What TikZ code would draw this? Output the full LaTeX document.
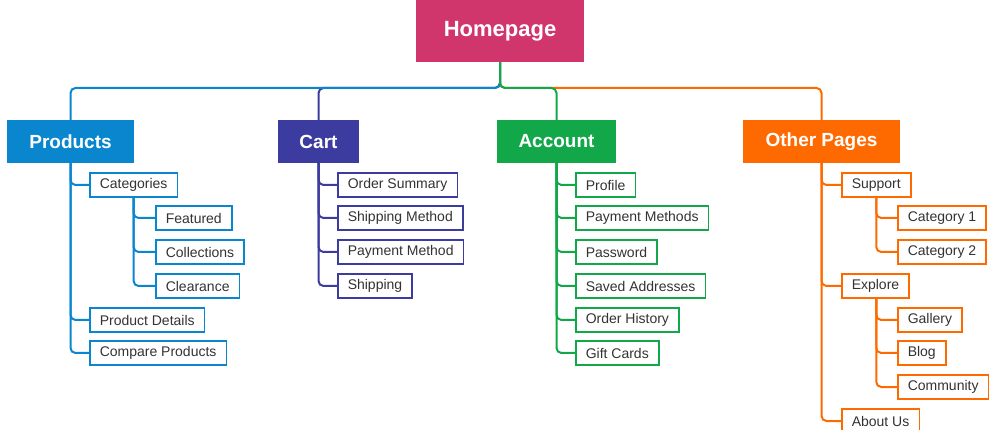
\documentclass[tikz,border=0pt]{standalone}
\usepackage{fontspec}
\setmainfont{Liberation Sans}
\begin{document}
\begin{tikzpicture}[x=1pt,y=-1pt,
  main/.style={fill=#1,text=white,font=\fontsize{19}{22}\selectfont\bfseries,minimum height=43pt,inner xsep=12pt},
  kid/.style={draw=#1,line width=1.5pt,fill=white,anchor=west,font=\fontsize{14}{16}\selectfont,text=black!80,minimum height=24pt,inner xsep=10pt,inner ysep=0pt},
  ln/.style={draw=#1,line width=2pt,rounded corners=5pt}]
\definecolor{cH}{HTML}{D0356B}
\definecolor{cP}{HTML}{0A86CF}
\definecolor{cC}{HTML}{3C3CA0}
\definecolor{cA}{HTML}{12A84A}
\definecolor{cO}{HTML}{FF6A00}
\useasboundingbox (0,0) rectangle (999,430);
\node[fill=cH,text=white,font=\fontsize{22}{26}\selectfont\bfseries,minimum width=168pt,minimum height=62pt] (home) at (500,31) {Homepage};
\node[main=cP,minimum width=127pt] (prod) at (70.5,141.5) {Products};
\node[main=cC,minimum width=81pt] (cart) at (318.5,141.5) {Cart};
\node[main=cA,minimum width=119pt] (acc) at (556.5,141.5) {Account};
\node[main=cO,minimum width=157pt] (oth) at (821.5,141.5) {Other Pages};
\coordinate (j) at (500,88);
\draw[ln=cO] (home.south) -- (j) -| (oth.north);
\draw[ln=cC] (home.south) -- (j) -| (cart.north);
\draw[ln=cP] (home.south) -- (j) -| (prod.north);
\draw[ln=cA] (home.south) -- (j) -| (acc.north);
% products
\node[kid=cP] (cat) at (89,185) {Categories};
\node[kid=cP] (fea) at (155,218) {Featured};
\node[kid=cP] (col) at (155,252) {Collections};
\node[kid=cP] (cle) at (155,286) {Clearance};
\node[kid=cP] (pd) at (89,320) {Product Details};
\node[kid=cP] (cp) at (89,353) {Compare Products};
\foreach \c in {cat,pd,cp} \draw[ln=cP] (prod.south) |- (\c.west);
\foreach \c in {fea,col,cle} \draw[ln=cP] (cat.south) |- (\c.west);
% cart
\node[kid=cC] (os) at (337,185) {Order Summary};
\node[kid=cC] (sm) at (337,218) {Shipping Method};
\node[kid=cC] (pm) at (337,252) {Payment Method};
\node[kid=cC] (sh) at (337,286) {Shipping};
\foreach \c in {os,sm,pm,sh} \draw[ln=cC] (cart.south) |- (\c.west);
% account
\node[kid=cA] (pr) at (575,185) {Profile};
\node[kid=cA] (pms) at (575,218) {Payment Methods};
\node[kid=cA] (pw) at (575,252) {Password};
\node[kid=cA] (sa) at (575,286) {Saved Addresses};
\node[kid=cA] (oh) at (575,320) {Order History};
\node[kid=cA] (gc) at (575,353) {Gift Cards};
\foreach \c in {pr,pms,pw,sa,oh,gc} \draw[ln=cA] (acc.south) |- (\c.west);
% other
\node[kid=cO] (sup) at (841,185) {Support};
\node[kid=cO] (c1) at (897,218) {Category 1};
\node[kid=cO] (c2) at (897,252) {Category 2};
\node[kid=cO] (exp) at (841,286) {Explore};
\node[kid=cO] (gal) at (897,320) {Gallery};
\node[kid=cO] (blog) at (897,353) {Blog};
\node[kid=cO] (com) at (897,387) {Community};
\node[kid=cO] (ab) at (841,421) {About Us};
\foreach \c in {sup,exp,ab} \draw[ln=cO] (oth.south) |- (\c.west);
\foreach \c in {c1,c2} \draw[ln=cO] (sup.south) |- (\c.west);
\foreach \c in {gal,blog,com} \draw[ln=cO] (sup.south |- exp.south) |- (\c.west);
\end{tikzpicture}
\end{document}
